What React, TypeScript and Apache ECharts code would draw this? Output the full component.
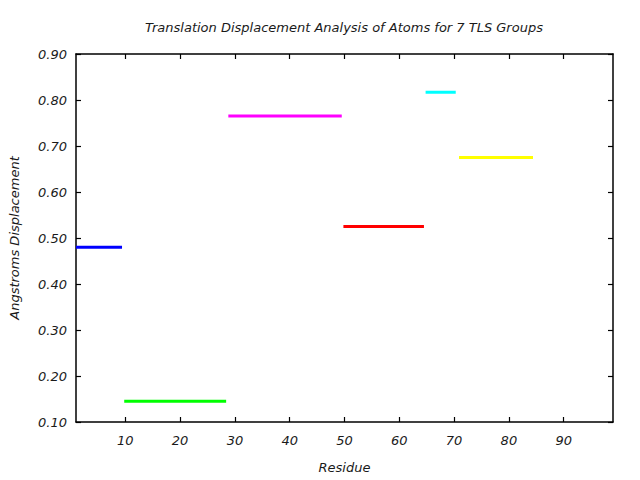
import React, { useEffect, useRef } from "react";
import * as echarts from "echarts";

const groupNames = ["TLS 1", "TLS 2", "TLS 3", "TLS 4", "TLS 5", "TLS 6"];
const groupStart = [1, 9.8, 28.8, 49.8, 64.8, 70.9];
const groupEnd = [9.4, 28.4, 49.5, 64.5, 70.3, 84.4];
const groupValue = [0.48, 0.145, 0.765, 0.525, 0.817, 0.675];
const groupColors = ["#0000ff", "#00ff00", "#ff00ff", "#ff0000", "#00ffff", "#ffff00"];
const xTicks = [10, 20, 30, 40, 50, 60, 70, 80, 90];
const yTicks = [0.1, 0.2, 0.3, 0.4, 0.5, 0.6, 0.7, 0.8, 0.9];

const FONT = "DejaVu Sans";

export default function App() {
  const ref = useRef<HTMLDivElement>(null);
  useEffect(() => {
    if (!ref.current) return;
    const chart = echarts.init(ref.current, null, { renderer: "svg" });
    const axisLine = { show: true, lineStyle: { color: "#000", width: 1.5 } };
    const tickStyle = { color: "#000", width: 1.2 };
    const labelStyle = { fontFamily: FONT, fontStyle: "italic", fontSize: 13, color: "#1a1a1a" };
    const xBase = {
      type: "value",
      min: 1,
      max: 99,
      splitLine: { show: false },
      axisLine,
    };
    const yBase = {
      type: "value",
      min: 0.1,
      max: 0.9,
      splitLine: { show: false },
      axisLine,
    };
    chart.setOption({
      animation: false,
      backgroundColor: "#fff",
      graphic: [
        {
          type: "text",
          x: 344,
          y: 27,
          style: {
            text: "Translation Displacement Analysis of Atoms for 7 TLS Groups",
            fontFamily: FONT,
            fontStyle: "italic",
            fontSize: 13,
            fill: "#1a1a1a",
            textAlign: "center",
            textVerticalAlign: "middle",
          },
        },
      ],
      grid: { left: 76, right: 27, top: 54, bottom: 58, containLabel: false },
      xAxis: [
        {
          ...xBase,
          position: "bottom",
          name: "Residue",
          nameLocation: "middle",
          nameGap: 39,
          nameTextStyle: { ...labelStyle },
          axisTick: { show: true, inside: true, length: 5, lineStyle: tickStyle, customValues: xTicks },
          axisLabel: {
            ...labelStyle,
            margin: 12,
            customValues: xTicks,
            formatter: (v: number) => String(Math.round(v)),
          },
        },
        {
          ...xBase,
          position: "top",
          axisTick: { show: true, inside: true, length: 5, lineStyle: tickStyle, customValues: xTicks },
          axisLabel: { show: false },
        },
      ],
      yAxis: [
        {
          ...yBase,
          position: "left",
          name: "Angstroms Displacement",
          nameLocation: "middle",
          nameGap: 55,
          nameTextStyle: { ...labelStyle },
          axisTick: { show: true, inside: true, length: 5, lineStyle: tickStyle, customValues: yTicks },
          axisLabel: {
            ...labelStyle,
            margin: 9,
            customValues: yTicks,
            formatter: (v: number) => v.toFixed(2),
          },
        },
        {
          ...yBase,
          position: "right",
          axisTick: { show: true, inside: true, length: 5, lineStyle: tickStyle, customValues: yTicks },
          axisLabel: { show: false },
        },
      ],
      series: groupStart.map((s, i) => ({
        type: "line",
        name: groupNames[i],
        xAxisIndex: 0,
        yAxisIndex: 0,
        showSymbol: false,
        symbol: "none",
        lineStyle: { color: groupColors[i], width: 3, cap: "butt" },
        itemStyle: { color: groupColors[i] },
        data: [
          [s, groupValue[i]],
          [groupEnd[i], groupValue[i]],
        ],
      })),
    });
    return () => chart.dispose();
  }, []);
  return <div ref={ref} style={{ width: 640, height: 480, position: "absolute", left: 0, top: 0 }} />;
}
